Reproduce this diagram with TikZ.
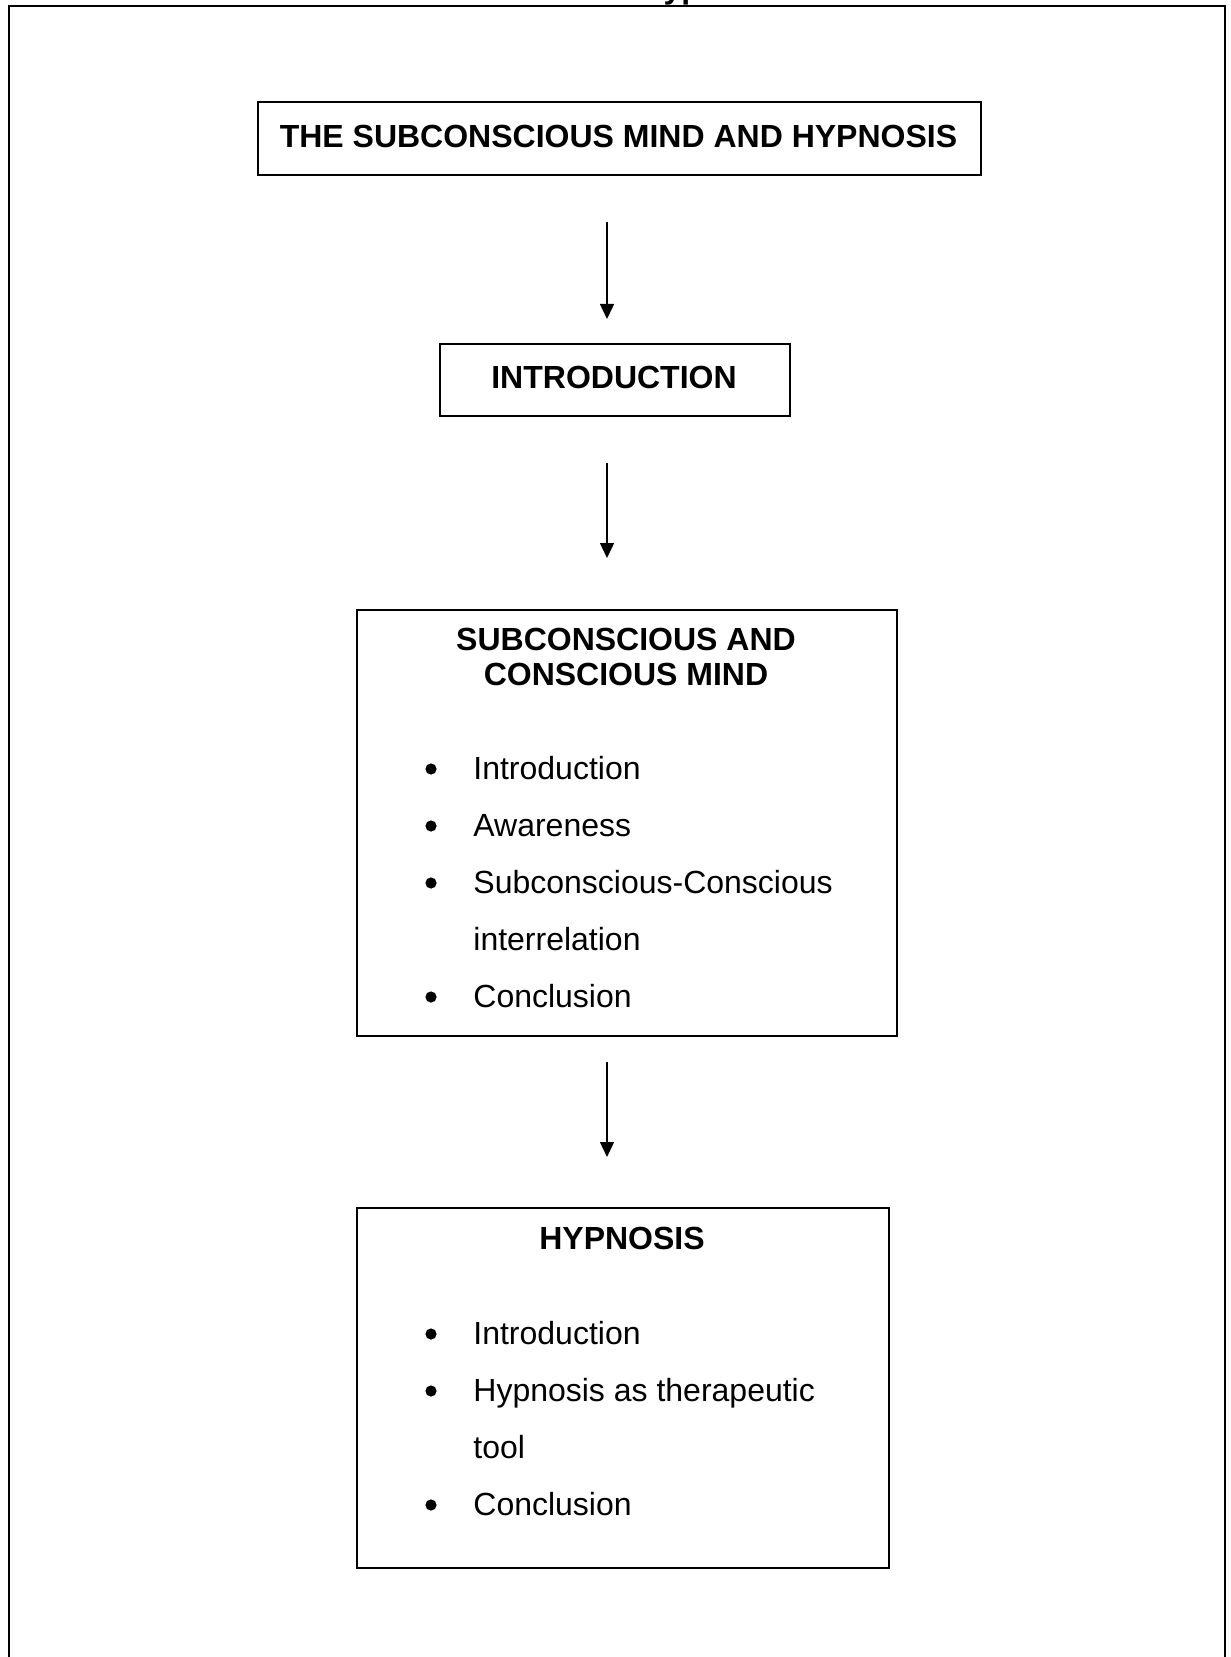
\documentclass[tikz,border=0pt]{standalone}
\usepackage{fontspec}
\setmainfont{Liberation Sans}
\usetikzlibrary{arrows.meta}
\begin{document}
\begin{tikzpicture}[x=0.5pt,y=-0.5pt,
  box/.style={draw, line width=1pt, inner sep=0pt, anchor=north west},
  ttl/.style={font=\fontsize{16}{19}\selectfont\bfseries, anchor=base, inner sep=0pt},
  itm/.style={font=\fontsize{16}{19}\selectfont, anchor=base west, inner sep=0pt},
  dot/.style={circle, fill, inner sep=0pt, minimum size=5.6pt},
  arr/.style={line width=0.7pt, -{Triangle[length=7.5pt,width=7pt]}},
]
\useasboundingbox (0,0) rectangle (1230,1657);
\fill[white] (0,0) rectangle (1230,1657);
% cut-off heading above the frame
\node[ttl, anchor=base west] (cut) at (640,-1) {Hypnosis};
% frame (open at the bottom)
\draw[line width=1pt] (9,1670) -- (9,6) -- (1225,6) -- (1225,1670);

% boxes
\node[box, minimum width=361.5pt, minimum height=36.5pt] (tbox) at (257,101) {};
\node[box, minimum width=175pt, minimum height=36pt] (ibox) at (439,343) {};
\node[box, minimum width=270pt, minimum height=213pt] (sbox) at (356,609) {};
\node[box, minimum width=266pt, minimum height=180pt] (hbox) at (356,1207) {};

% box texts
\node[ttl] (ttext) at (618.5,148) {THE SUBCONSCIOUS MIND AND HYPNOSIS};
\node[ttl] (itext) at (614,389) {INTRODUCTION};

\node[ttl] (s1) at (626,650) {SUBCONSCIOUS AND};
\node[ttl] (s2) at (626,685) {CONSCIOUS MIND};
\node[dot] (sb1) at (431,769) {};
\node[itm] (si1) at (473,779) {Introduction};
\node[dot] (sb2) at (431,826) {};
\node[itm] (si2) at (473,836) {Awareness};
\node[dot] (sb3) at (431,883) {};
\node[itm] (si3) at (473,893) {Subconscious-Conscious};
\node[itm] (si4) at (473,950) {interrelation};
\node[dot] (sb5) at (431,997) {};
\node[itm] (si5) at (473,1007) {Conclusion};

\node[ttl] (h1) at (622,1249) {HYPNOSIS};
\node[dot] (hb1) at (431,1334) {};
\node[itm] (hi1) at (473,1344) {Introduction};
\node[dot] (hb2) at (431,1391) {};
\node[itm] (hi2) at (473,1401) {Hypnosis as therapeutic};
\node[itm] (hi3) at (473,1458) {tool};
\node[dot] (hb4) at (431,1505) {};
\node[itm] (hi4) at (473,1515) {Conclusion};

% arrows
\coordinate (a1s) at (607,222);
\coordinate (a1e) at (607,319);
\coordinate (a2s) at (607,463);
\coordinate (a2e) at (607,558);
\coordinate (a3s) at (607,1062);
\coordinate (a3e) at (607,1157);
\draw[arr] (a1s) -- (a1e);
\draw[arr] (a2s) -- (a2e);
\draw[arr] (a3s) -- (a3e);
\end{tikzpicture}
\end{document}
